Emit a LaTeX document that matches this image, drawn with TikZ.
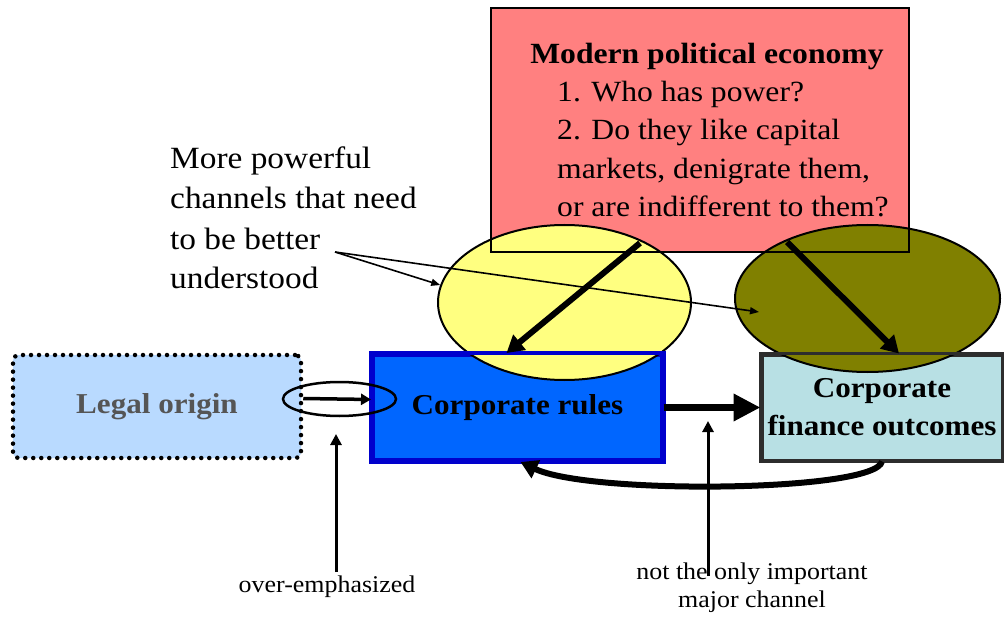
\documentclass[tikz,border=0pt]{standalone}
\usepackage{fontspec}
\setmainfont{Liberation Serif}[FakeStretch=1.08]
\usepackage{tikz}
\usetikzlibrary{arrows.meta,shapes.geometric,positioning,calc}
\usepackage{xcolor}

\definecolor{legalfill}{RGB}{185,218,255}
\definecolor{legaltext}{RGB}{85,85,85}
\definecolor{rulesfill}{RGB}{0,102,255}
\definecolor{rulesline}{RGB}{0,0,204}
\definecolor{finfill}{RGB}{184,224,228}
\definecolor{finline}{RGB}{45,45,45}
\definecolor{polfill}{RGB}{255,128,128}
\definecolor{yelfill}{RGB}{255,255,128}
\definecolor{olvfill}{RGB}{128,128,0}

\newcommand{\boxfont}{\fontsize{28.8}{38}\selectfont\bfseries}
\newcommand{\polfont}{\fontsize{29.3}{38.5}\selectfont}
\newcommand{\notefont}{\fontsize{24}{28}\selectfont}
\newcommand{\chanfont}{\fontsize{30.9}{40}\selectfont}

\tikzset{
    legalbox/.style={draw, dash pattern=on 0pt off 8pt, line cap=round, line width=4.5pt,
        rounded corners=6pt, fill=legalfill, minimum width=288pt, minimum height=103pt},
    rulesbox/.style={draw=rulesline, line width=4pt, fill=rulesfill, minimum width=289pt, minimum height=105pt},
    finbox/.style={draw=finline, line width=3pt, fill=finfill, minimum width=240pt, minimum height=105pt, align=center},
    chanoval/.style={ellipse, draw, line width=2pt, inner sep=0pt},
    bigarrow/.style={line width=6pt, -{Triangle[length=17pt,width=19pt]}},
    thinarrow/.style={line width=1.6pt, -{Triangle[length=9pt,width=7pt]}},
    uparrow/.style={line width=3pt, -{Triangle[length=11pt,width=11pt]}}
}

\begin{document}
\begin{tikzpicture}[x=1pt, y=-1pt]
    \useasboundingbox (0,0) rectangle (1004,620);

    % Modern political economy (fill first, border later)
    \node[fill=polfill, minimum width=418pt, minimum height=244pt, inner sep=0pt] (pol) at (700,130) {};

    % Main boxes
    \node[legalbox, text=legaltext, font=\boxfont] (legal) at (157,406.5) {Legal origin};
    \node[rulesbox, font=\boxfont] (rules) at (517.5,407.5) {Corporate rules};
    \node[finbox, font=\boxfont] (fin) at (882,407.5) {Corporate\\finance outcomes};

    % Channels
    \node[chanoval, fill=yelfill, minimum width=253pt, minimum height=155pt] (yel) at (564.5,302.5) {};
    \node[chanoval, fill=olvfill, minimum width=265pt, minimum height=147pt] (olv) at (867.5,298.5) {};

    % Borders on top of the channels
    \draw[line width=2.5pt] (pol.south west) rectangle (pol.north east);
    \draw[rulesline, line width=4pt] (rules.south west) rectangle (rules.north east);
    \draw[finline, line width=3pt] (fin.south west) rectangle (fin.north east);

    % Political economy text
    \node[anchor=base] (poltitle) at (707,64) {\polfont\bfseries Modern political economy};
    \foreach \txt/\yy [count=\i] in {1. Who has power?/102, 2. Do they like capital/140,
        {markets, denigrate them,}/179, or are indifferent to them?/217} {
        \node[anchor=base west, inner sep=0pt] (polline\i) at (557,\yy) {\polfont \txt};
    }

    % More powerful channels
    \foreach \txt/\yy [count=\i] in {More powerful/169, channels that need/209,
        to be better/250, understood/289} {
        \node[anchor=base west, inner sep=0pt] (chan\i) at (170,\yy) {\chanfont \txt};
    }
    \coordinate (ptr) at (335,252);
    \coordinate (olvpt) at (759,312);
    \draw[thinarrow] (ptr) -- (yel.172);
    \draw[thinarrow] (ptr) -- (olvpt);

    % Political economy acting on rules and outcomes
    \coordinate (polA) at (640,243);
    \coordinate (polB) at (787,242);
    \draw[bigarrow] (polA) -- ([xshift=-11pt]rules.north);
    \draw[bigarrow] (polB) -- ([xshift=17pt]fin.north);

    % Rules to outcomes and feedback
    \draw[line width=7pt, -{Triangle[length=27pt,width=26pt]}] (rules.east) -- (fin.west);
    \draw[bigarrow] (fin.south) .. controls (875,492) and (590,495) .. ([xshift=3pt]rules.south);

    % Legal origin channel
    \node[ellipse, draw, line width=2.5pt, minimum width=113pt, minimum height=34pt] (hl) at (339.5,399) {};
    \draw[line width=3.5pt, -{Triangle[length=10pt,width=11pt]}] ([yshift=8pt]legal.east) -- ([yshift=8pt]rules.west);

    % Notes
    \coordinate (oetip) at (336,434);
    \coordinate (oebase) at (336,572);
    \draw[uparrow] (oebase) -- (oetip);
    \node[font=\notefont] (oelab) at (327,587) {over-emphasized};

    \coordinate (mctip) at (708,421);
    \coordinate (mcbase) at (708,576);
    \draw[uparrow] (mcbase) -- (mctip);
    \node[align=center, font=\notefont] (mclab) at (752,588) {not the only important\\major channel};
\end{tikzpicture}
\end{document}
